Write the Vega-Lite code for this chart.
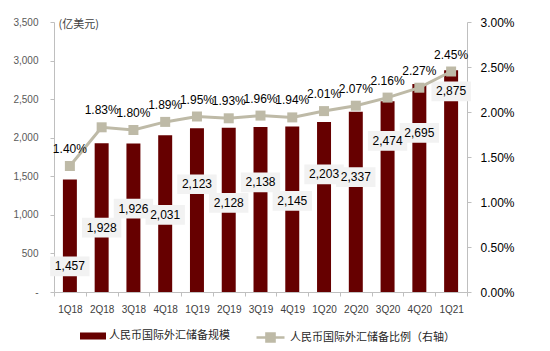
{
  "$schema": "https://vega.github.io/schema/vega-lite/v6.json",
  "width": 413,
  "height": 270,
  "autosize": "none",
  "padding": {"left": 54, "top": 22, "right": 83, "bottom": 59},
  "background": "white",
  "config": {
    "view": {"stroke": null},
    "font": "Liberation Sans",
    "axis": {"grid": false, "domainColor": "#BFBFBF", "tickColor": "#BFBFBF", "tickSize": 4, "titleFontWeight": "normal"},
    "legend": {"labelFont": "Noto Sans CJK SC", "labelFontSize": 11, "labelColor": "#262626", "title": null, "labelLimit": 300, "padding": 0, "symbolOffset": 0}
  },
  "data": {
    "values": [
      {"q": "1Q18", "v": 1457, "p": 0.0140},
      {"q": "2Q18", "v": 1928, "p": 0.0183},
      {"q": "3Q18", "v": 1926, "p": 0.0180},
      {"q": "4Q18", "v": 2031, "p": 0.0189},
      {"q": "1Q19", "v": 2123, "p": 0.0195},
      {"q": "2Q19", "v": 2128, "p": 0.0193},
      {"q": "3Q19", "v": 2138, "p": 0.0196},
      {"q": "4Q19", "v": 2145, "p": 0.0194},
      {"q": "1Q20", "v": 2203, "p": 0.0201},
      {"q": "2Q20", "v": 2337, "p": 0.0207},
      {"q": "3Q20", "v": 2474, "p": 0.0216},
      {"q": "4Q20", "v": 2695, "p": 0.0227},
      {"q": "1Q21", "v": 2875, "p": 0.0245}
    ]
  },
  "transform": [
    {"window": [{"op": "row_number", "as": "idx"}]},
    {"calculate": "datum.v * 1.6 - 2000 - (datum.idx % 2 == 0 ? 250 : 0)", "as": "ly"}
  ],
  "encoding": {
    "x": {
      "field": "q", "type": "nominal", "sort": null,
      "scale": {"paddingInner": 0, "paddingOuter": 0},
      "axis": {"title": null, "labelAngle": 0, "labelFontSize": 10, "labelColor": "#404040", "labelPadding": 8, "tickBand": "extent"}
    }
  },
  "layer": [
    {
      "layer": [
        {
          "mark": {"type": "bar", "width": {"band": 0.44}, "color": "#660000"},
          "encoding": {
            "y": {
              "field": "v", "type": "quantitative",
              "scale": {"domain": [0, 3500]},
              "axis": {
                "values": [0, 500, 1000, 1500, 2000, 2500, 3000, 3500],
                "labelExpr": "datum.value == 0 ? '-' : format(datum.value, ',')",
                "labelFontSize": 10, "labelColor": "#595959", "labelPadding": 12,
                "title": "(亿美元)", "titleAngle": 0, "titleX": 4, "titleY": 2,
                "titleAlign": "left", "titleBaseline": "middle",
                "titleFont": "Noto Sans CJK SC", "titleFontSize": 11, "titleColor": "#404040"
              }
            },
            "fill": {"datum": "人民币国际外汇储备规模", "scale": {"range": ["#660000"]},
              "legend": {"orient": "none", "legendX": 26, "legendY": 301, "symbolType": "M-1,-0.27H1V0.27H-1Z", "symbolSize": 676, "symbolStrokeWidth": 0, "labelOffset": 3}}
          }
        },
        {
          "mark": {"type": "point", "shape": "M-1,-0.5H1V0.5H-1Z", "size": 1550, "filled": true, "fill": "#F2F2F2", "opacity": 1, "strokeWidth": 0},
          "encoding": {"y": {
              "field": "ly", "type": "quantitative",
              "scale": {"domain": [0, 3500]},
              "axis": {
                "values": [0, 500, 1000, 1500, 2000, 2500, 3000, 3500],
                "labelExpr": "datum.value == 0 ? '-' : format(datum.value, ',')",
                "labelFontSize": 10, "labelColor": "#595959", "labelPadding": 12,
                "title": "(亿美元)", "titleAngle": 0, "titleX": 4, "titleY": 2,
                "titleAlign": "left", "titleBaseline": "middle",
                "titleFont": "Noto Sans CJK SC", "titleFontSize": 11, "titleColor": "#404040"
              }
            }}
        },
        {
          "mark": {"type": "text", "fontSize": 12, "color": "#000000", "baseline": "middle"},
          "encoding": {
            "y": {
              "field": "ly", "type": "quantitative",
              "scale": {"domain": [0, 3500]},
              "axis": {
                "values": [0, 500, 1000, 1500, 2000, 2500, 3000, 3500],
                "labelExpr": "datum.value == 0 ? '-' : format(datum.value, ',')",
                "labelFontSize": 10, "labelColor": "#595959", "labelPadding": 12,
                "title": "(亿美元)", "titleAngle": 0, "titleX": 4, "titleY": 2,
                "titleAlign": "left", "titleBaseline": "middle",
                "titleFont": "Noto Sans CJK SC", "titleFontSize": 11, "titleColor": "#404040"
              }
            },
            "text": {"field": "v", "type": "quantitative", "format": ","}
          }
        }
      ]
    },
    {
      "layer": [
        {
          "mark": {"type": "line", "strokeWidth": 3},
          "encoding": {
            "y": {
              "field": "p", "type": "quantitative",
              "scale": {"domain": [0, 0.03]},
              "axis": {"orient": "right", "values": [0, 0.005, 0.01, 0.015, 0.02, 0.025, 0.03], "format": ".2%", "labelFontSize": 12, "labelColor": "#000000", "labelPadding": 9, "title": null}
            },
            "stroke": {"datum": "人民币国际外汇储备比例（右轴）", "scale": {"range": ["#BEBAA7"]},
              "legend": {"orient": "none", "legendX": 201, "legendY": 300, "symbolType": "M-1,0H1M-0.29,-0.29H0.29V0.29H-0.29Z", "symbolSize": 784, "symbolStrokeWidth": 2.5, "symbolFillColor": "#BEBAA7", "labelOffset": 4}}
          }
        },
        {
          "mark": {"type": "square", "size": 100, "filled": true, "color": "#BEBAA7", "opacity": 1},
          "encoding": {"y": {
              "field": "p", "type": "quantitative",
              "scale": {"domain": [0, 0.03]},
              "axis": {"orient": "right", "values": [0, 0.005, 0.01, 0.015, 0.02, 0.025, 0.03], "format": ".2%", "labelFontSize": 12, "labelColor": "#000000", "labelPadding": 9, "title": null}
            }}
        },
        {
          "mark": {"type": "text", "fontSize": 12, "color": "#000000", "baseline": "middle", "dy": -17},
          "encoding": {
            "y": {
              "field": "p", "type": "quantitative",
              "scale": {"domain": [0, 0.03]},
              "axis": {"orient": "right", "values": [0, 0.005, 0.01, 0.015, 0.02, 0.025, 0.03], "format": ".2%", "labelFontSize": 12, "labelColor": "#000000", "labelPadding": 9, "title": null}
            },
            "text": {"field": "p", "type": "quantitative", "format": ".2%"}
          }
        }
      ]
    }
  ],
  "resolve": {"scale": {"y": "independent"}}
}
